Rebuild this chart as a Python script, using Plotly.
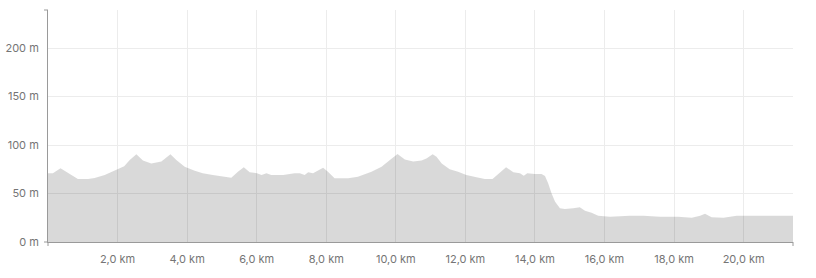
import plotly.graph_objects as go

# distance along the route (km) and elevation (m)
distance_km = [0.00, 0.14, 0.36, 0.57, 0.86, 1.15, 1.34, 1.63, 1.91, 2.19, 2.35, 2.54, 2.73, 2.97,
               3.26, 3.52, 3.69, 3.93, 4.22, 4.45, 4.74, 4.94, 5.13, 5.27, 5.46, 5.63, 5.80, 6.01,
               6.14, 6.28, 6.42, 6.76, 7.09, 7.24, 7.38, 7.48, 7.62, 7.76, 7.91, 8.05, 8.24, 8.63,
               8.91, 9.30, 9.59, 9.83, 10.05, 10.26, 10.50, 10.74, 10.88, 11.06, 11.17, 11.32,
               11.55, 11.79, 12.03, 12.32, 12.56, 12.78, 12.99, 13.17, 13.38, 13.57, 13.68, 13.78,
               14.00, 14.19, 14.29, 14.38, 14.48, 14.58, 14.72, 14.86, 15.10, 15.29, 15.44, 15.63,
               15.82, 16.16, 16.73, 17.12, 17.60, 17.74, 18.12, 18.51, 18.75, 18.89, 19.08, 19.42,
               19.66, 19.80, 21.42]
elevation_m = [71, 71, 76, 71, 65, 65, 66, 69, 73.5, 78, 84.5, 90.5, 84, 81,
               83, 90.5, 84.5, 77.6, 73.5, 71, 69, 68, 66.3, 66.3, 72.5, 77, 72, 71,
               69, 71, 69, 69, 71, 71, 69, 72, 71, 73.5, 76.6, 72.5, 65.6, 65.6,
               67.4, 72.5, 77.7, 84.5, 90.7, 85, 83, 84, 86, 90.4, 88, 81,
               75, 72.5, 69, 66.7, 65, 65, 71, 77, 72, 71, 68.4, 71,
               70, 70, 68, 60.5, 50, 41.6, 34.7, 34, 34.7, 35.7, 32.3, 30.2,
               27, 26, 27, 27, 26, 26, 26, 25, 27, 29, 25.4, 25,
               26, 27, 27]

x_tick_vals = [2, 4, 6, 8, 10, 12, 14, 16, 18, 20]
x_tick_text = ["2,0 km", "4,0 km", "6,0 km", "8,0 km", "10,0 km", "12,0 km",
               "14,0 km", "16,0 km", "18,0 km", "20,0 km"]
y_tick_vals = [0, 50, 100, 150, 200]
y_tick_text = ["0 m", "50 m", "100 m", "150 m", "200 m"]

x_max = 21.42
y_max = 239.2

axis_color = "#9a9a9a"
grid_color = "#ececec"
label_color = "#757575"

fig = go.Figure()
fig.add_trace(go.Scatter(
    x=distance_km, y=elevation_m,
    mode="lines",
    line=dict(width=0, color="rgba(0,0,0,0)"),
    fill="tozeroy",
    fillcolor="rgba(0,0,0,0.15)",
    hoverinfo="skip",
))

# end ticks of the axis domains (pixel-sized)
end_ticks = [
    dict(xref="paper", yref="paper", xsizemode="pixel", xanchor=0, x0=-4, x1=0, y0=1, y1=1),
    dict(xref="paper", yref="paper", xsizemode="pixel", xanchor=0, x0=-4, x1=0, y0=0, y1=0),
    dict(xref="paper", yref="paper", ysizemode="pixel", yanchor=0, y0=-4, y1=0, x0=0, x1=0),
    dict(xref="paper", yref="paper", ysizemode="pixel", yanchor=0, y0=-4, y1=0, x0=1, x1=1),
]
for s in end_ticks:
    fig.add_shape(type="line", line=dict(color=axis_color, width=1), **s)

fig.update_layout(
    width=816, height=278,
    margin=dict(l=48, r=23, t=10, b=36),
    paper_bgcolor="white",
    plot_bgcolor="white",
    showlegend=False,
    font=dict(family="Inter, 'Open Sans', sans-serif", size=11, color=label_color),
    xaxis=dict(
        range=[0, x_max],
        tickvals=x_tick_vals, ticktext=x_tick_text,
        showgrid=True, gridcolor=grid_color, gridwidth=1,
        showline=True, linecolor=axis_color, linewidth=1,
        zeroline=False, ticks="", ticklabelstandoff=7,
        automargin=False,
        fixedrange=True,
    ),
    yaxis=dict(
        range=[0, y_max],
        tickvals=y_tick_vals, ticktext=y_tick_text,
        showgrid=True, gridcolor=grid_color, gridwidth=1,
        showline=True, linecolor=axis_color, linewidth=1,
        zeroline=False, ticks="", ticklabelstandoff=6,
        automargin=False,
        fixedrange=True,
    ),
)

fig.write_html("out.html")
